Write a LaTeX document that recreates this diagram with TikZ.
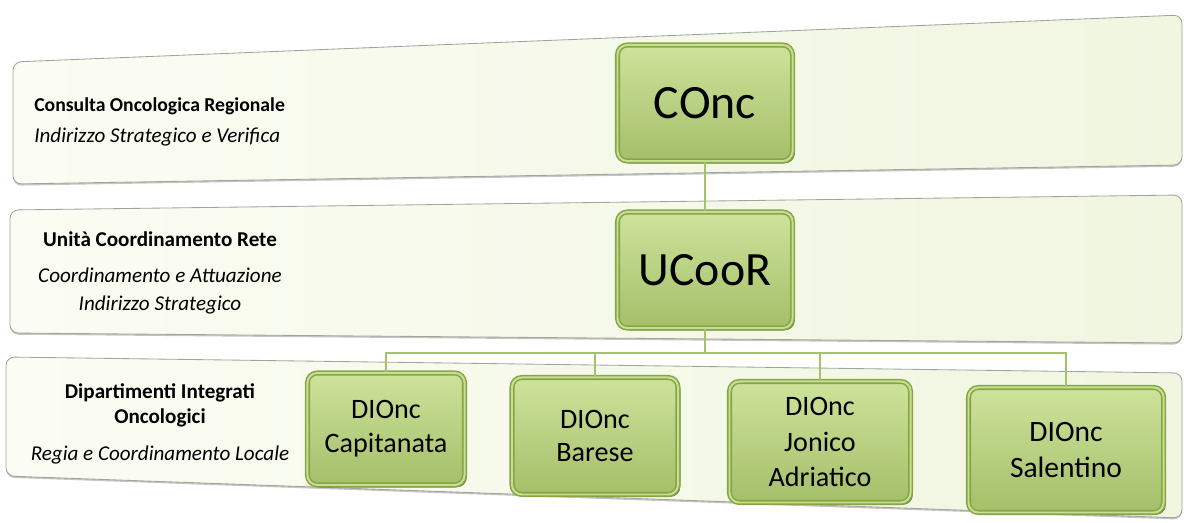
\documentclass[tikz,border=0pt]{standalone}
\usepackage{fontspec}
\setmainfont{Carlito}
\usepackage{tikz}
\usetikzlibrary{shadows}

\definecolor{boxfill}{HTML}{B3CF72}
\definecolor{boxtop}{HTML}{CDE39B}
\definecolor{boxedge}{HTML}{86A544}
\definecolor{bandleft}{HTML}{FBFCF3}
\definecolor{bandright}{HTML}{F0F6E0}
\definecolor{bandedge}{HTML}{A2A49C}
\definecolor{linkgreen}{HTML}{A4C36A}

\begin{document}
\begin{tikzpicture}[x=0.025cm, y=-0.025cm,
    band/.style={draw=bandedge, line width=0.6pt, rounded corners=6pt,
        left color=bandleft, right color=bandright,
        drop shadow={shadow xshift=0pt, shadow yshift=-1.2pt, fill=black!45, opacity=0.5}},
    unit/.style={draw=boxedge, line width=1.1pt, double=boxtop!80!boxfill, double distance=1.4pt,
        rounded corners=7pt, top color=boxtop, bottom color=boxfill!92!black,
        drop shadow={shadow xshift=1.6pt, shadow yshift=-1.6pt, fill=black!70!boxedge, opacity=0.7},
        align=center, inner sep=2pt},
    bigunit/.style={unit, minimum width=4.375cm, minimum height=2.9cm,
        font=\fontsize{34}{40}\selectfont},
    dio/.style={unit, font=\fontsize{20}{24}\selectfont},
    label/.style={font=\fontsize{15}{19.5}\selectfont, inner sep=0pt},
    link/.style={draw=linkgreen, line width=1.5pt}]
    \useasboundingbox (0,0) rectangle (1184,523);

    \path[band] (13,62) -- (1182,15) -- (1182,165) -- (13,184) -- cycle;
    \path[band] (10,210) -- (1182,195) -- (1182,343) -- (10,333) -- cycle;
    \path[band] (6,357) -- (1182,373) -- (1182,518) -- (6,476) -- cycle;

    \node[label, anchor=west, align=left] (lblconc) at (34,122)
        {{\fontsize{14}{19}\selectfont\textbf{Consulta Oncologica Regionale}}\\[3pt] \textit{Indirizzo Strategico e Verifica}};
    \node[label, align=center] (lblucoor) at (160,273)
        {\textbf{Unità Coordinamento Rete}\\[6pt] \textit{Coordinamento e Attuazione}\\ \textit{Indirizzo Strategico}};
    \node[label, align=center, font=\fontsize{15}{18}\selectfont] (lbldio) at (160,424)
        {\textbf{Dipartimenti Integrati}\\ \textbf{Oncologici}\\[8pt] \textit{Regia e Coordinamento Locale}};

    \node[bigunit] (conc) at (705,103) {COnc};
    \node[bigunit] (ucoor) at (705,270) {UCooR};

    \node[dio, minimum width=3.925cm, minimum height=2.8cm] (capit) at (386,429) {DIOnc\\Capitanata};
    \node[dio, minimum width=4.15cm, minimum height=2.925cm] (bares) at (595,436) {DIOnc\\Barese};
    \node[dio, minimum width=4.525cm, minimum height=3.025cm, font=\fontsize{20}{25}\selectfont] (jonic) at (820,442) {DIOnc\\Jonico\\Adriatico};
    \node[dio, minimum width=4.875cm, minimum height=3.125cm, font=\fontsize{21}{26}\selectfont] (salen) at (1066,450) {DIOnc\\Salentino};

    \coordinate (bus) at (705,353);
    \draw[link] (conc) -- (ucoor);
    \draw[link] (ucoor) -- (bus);
    \foreach \d in {capit,bares,jonic,salen}
        \draw[link] (bus) -| (\d.north);
\end{tikzpicture}
\end{document}
